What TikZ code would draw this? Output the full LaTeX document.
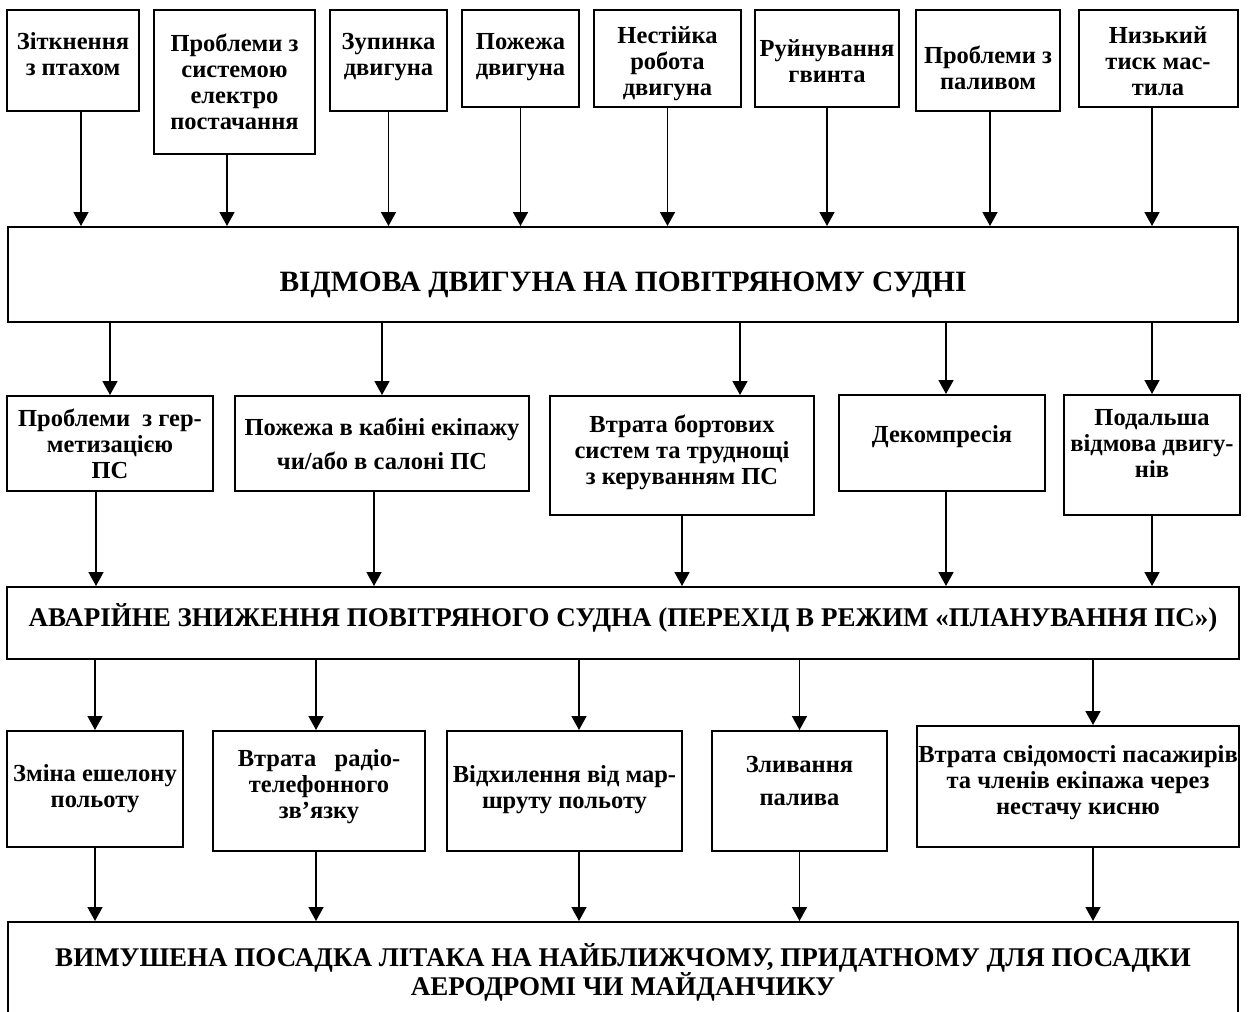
\documentclass[tikz,border=0pt]{standalone}
\usepackage{fontspec}
\setmainfont{Liberation Serif}
\usetikzlibrary{arrows.meta}

% text of a box, lifted by #1 from the middle of the box
\newcommand{\boxtext}[2]{\raisebox{\dimexpr#1-9pt\relax}[0pt][0pt]{\begin{tabular}{@{}c@{}}#2\end{tabular}}}

\begin{document}
\begin{tikzpicture}[x=1pt,y=-1pt,
  box/.style={draw,line width=2pt,align=center,inner sep=0pt,font=\bfseries\fontsize{24.5}{26}\selectfont},
  head/.style={draw,line width=2pt,align=center,inner sep=0pt,font=\bfseries\fontsize{27}{29}\selectfont},
  arr/.style={line width=1.6pt,-{Triangle[length=14pt,width=15pt]}}]

\useasboundingbox (0,0) rectangle (1248,1012);
\clip (0,0) rectangle (1248,1012);

% causes
\node[box,minimum width=132,minimum height=101] at (73,60.5) (bird) {\boxtext{5.5pt}{Зіткнення\\з птахом}};
\node[box,minimum width=161,minimum height=144] at (234.5,82) (power) {Проблеми з\\системою\\електро\\постачання};
\node[box,minimum width=117,minimum height=101] at (388.5,60.5) (stop) {\boxtext{5.5pt}{Зупинка\\двигуна}};
\node[box,minimum width=117,minimum height=97] at (520.5,58.5) (fire) {\boxtext{3.5pt}{Пожежа\\двигуна}};
\node[box,minimum width=147,minimum height=97] at (667.5,58.5) (unstable) {\boxtext{-3pt}{Нестійка\\робота\\двигуна}};
\node[box,minimum width=144,minimum height=97] at (827,58.5) (prop) {\boxtext{-3pt}{Руйнування\\гвинта}};
\node[box,minimum width=144,minimum height=101] at (988,60.5) (fuel) {\boxtext{-8pt}{Проблеми з\\паливом}};
\node[box,minimum width=159,minimum height=97] at (1158,58.5) (oil) {\boxtext{-3pt}{Низький\\тиск мас-\\тила}};

\node[head,font=\bfseries\fontsize{29.5}{32}\selectfont,minimum width=1230,minimum height=95] at (623,274.5) (fail) {\boxtext{-7.5pt}{ВІДМОВА ДВИГУНА НА ПОВІТРЯНОМУ СУДНІ}};

% consequences
\node[box,minimum width=206,minimum height=95] at (110,443.5) (press) {Проблеми \ з гер-\\метизацією\\ПС};
\node[box,minimum width=294,minimum height=95] at (382,443.5) (cabin) {Пожежа в кабіні екіпажу\\[8pt]чи/або в салоні ПС};
\node[box,minimum width=264,minimum height=119] at (682,455.5) (systems) {\boxtext{5pt}{Втрата бортових\\систем та труднощі\\з керуванням ПС}};
\node[box,minimum width=206,minimum height=96] at (942,443) (decomp) {\boxtext{8pt}{Декомпресія}};
\node[box,minimum width=176,minimum height=120] at (1152,455) (further) {\boxtext{11pt}{Подальша\\відмова двигу-\\нів}};

\node[head,minimum width=1232,minimum height=72] at (623,623) (descent) {\boxtext{6pt}{АВАРІЙНЕ ЗНИЖЕННЯ ПОВІТРЯНОГО СУДНА (ПЕРЕХІД В РЕЖИМ «ПЛАНУВАННЯ ПС»)}};

\node[box,minimum width=176,minimum height=116] at (95,789) (level) {Зміна ешелону\\польоту};
\node[box,minimum width=212,minimum height=120] at (319,791) (radio) {\boxtext{6pt}{Втрата \ \ радіо-\\телефонного\\зв’язку}};
\node[box,minimum width=235,minimum height=120] at (564.5,791) (route) {\boxtext{3.5pt}{Відхилення від мар-\\шруту польоту}};
\node[box,minimum width=175,minimum height=120] at (799.5,791) (dump) {\boxtext{9.5pt}{Зливання\\[7pt]палива}};
\node[box,minimum width=322,minimum height=121] at (1078,786.5) (hypox) {\boxtext{5.5pt}{Втрата свідомості пасажирів\\та членів екіпажа через\\нестачу кисню}};

\node[head,minimum width=1230,minimum height=100] at (623,972) (landing) {ВИМУШЕНА ПОСАДКА ЛІТАКА НА НАЙБЛИЖЧОМУ, ПРИДАТНОМУ ДЛЯ ПОСАДКИ\\АЕРОДРОМІ ЧИ МАЙДАНЧИКУ};

% arrows
\draw[arr] ([xshift=8]bird.south) -- ([xshift=8]bird.south |- fail.north);
\draw[arr] ([xshift=-7.5]power.south) -- ([xshift=-7.5]power.south |- fail.north);
\draw[arr] (stop.south) -- (stop.south |- fail.north);
\draw[arr] (fire.south) -- (fire.south |- fail.north);
\draw[arr] (unstable.south) -- (unstable.south |- fail.north);
\draw[arr] (prop.south) -- (prop.south |- fail.north);
\draw[arr] ([xshift=2]fuel.south) -- ([xshift=2]fuel.south |- fail.north);
\draw[arr] ([xshift=-6]oil.south) -- ([xshift=-6]oil.south |- fail.north);

\draw[arr] (fail.south -| press.north) -- (press.north);
\draw[arr] (fail.south -| cabin.north) -- (cabin.north);
\draw[arr] ([xshift=58]systems.north |- fail.south) -- ([xshift=58]systems.north);
\draw[arr] ([xshift=4]decomp.north |- fail.south) -- ([xshift=4]decomp.north);
\draw[arr] (fail.south -| further.north) -- (further.north);

\draw[arr] ([xshift=-14]press.south) -- ([xshift=-14]press.south |- descent.north);
\draw[arr] ([xshift=-8]cabin.south) -- ([xshift=-8]cabin.south |- descent.north);
\draw[arr] (systems.south) -- (systems.south |- descent.north);
\draw[arr] ([xshift=4]decomp.south) -- ([xshift=4]decomp.south |- descent.north);
\draw[arr] (further.south) -- (further.south |- descent.north);

\draw[arr] (descent.south -| level.north) -- (level.north);
\draw[arr] ([xshift=-3]radio.north |- descent.south) -- ([xshift=-3]radio.north);
\draw[arr] ([xshift=14.5]route.north |- descent.south) -- ([xshift=14.5]route.north);
\draw[arr] (descent.south -| dump.north) -- (dump.north);
\draw[arr] ([xshift=15]hypox.north |- descent.south) -- ([xshift=15]hypox.north);

\draw[arr] (level.south) -- (level.south |- landing.north);
\draw[arr] ([xshift=-3]radio.south) -- ([xshift=-3]radio.south |- landing.north);
\draw[arr] ([xshift=14.5]route.south) -- ([xshift=14.5]route.south |- landing.north);
\draw[arr] (dump.south) -- (dump.south |- landing.north);
\draw[arr] ([xshift=15]hypox.south) -- ([xshift=15]hypox.south |- landing.north);

\end{tikzpicture}
\end{document}
